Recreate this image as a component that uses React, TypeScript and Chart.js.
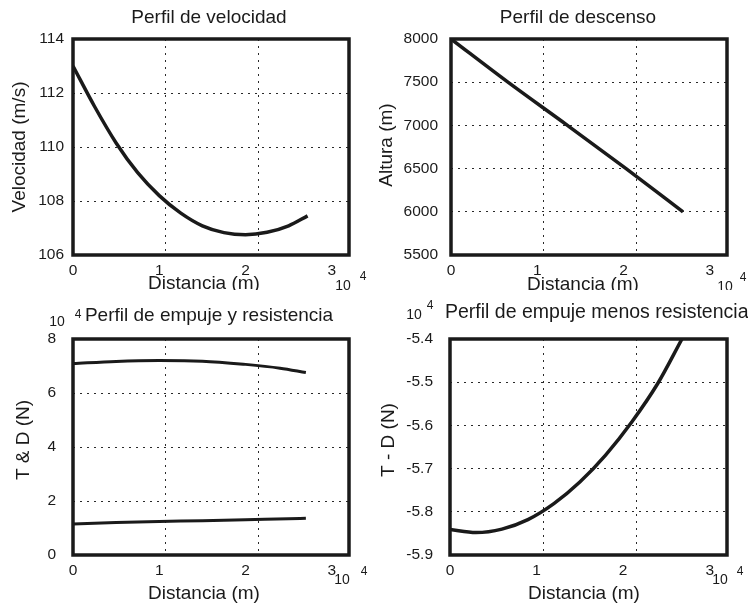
import { useEffect, useRef } from 'react';
import { Chart, registerables } from 'chart.js';

Chart.register(...registerables);

// Distance along the path, in units of 10^4 m
const distTicks = [0, 1, 2, 3];
const distGrid = [1, 2];

// Velocity profile (m/s)
const velDist = [0, 0.25, 0.5, 0.75, 1.0, 1.25, 1.5, 1.75, 2.0, 2.25, 2.5, 2.72];
const velocity = [113.0, 111.5, 110.15, 109.05, 108.2, 107.55, 107.08, 106.83, 106.75, 106.84, 107.08, 107.45];
const velTicks = [106, 108, 110, 112, 114];

// Descent profile (m)
const altDist = [0, 0.66, 1.35, 2.03, 2.69];
const altitude = [8000, 7500, 7000, 6500, 6000];
const altTicks = [5500, 6000, 6500, 7000, 7500, 8000];

// Thrust and drag (10^4 N)
const thrustDist = [0, 0.5, 1.0, 1.5, 2.0, 2.4, 2.7];
const thrust = [7.09, 7.17, 7.2, 7.18, 7.06, 6.92, 6.76];
const dragDist = [0, 0.5, 1.0, 1.5, 2.0, 2.5, 2.7];
const drag = [1.15, 1.2, 1.24, 1.27, 1.31, 1.34, 1.36];
const forceTicks = [0, 2, 4, 6, 8];

// Thrust minus drag (10^4 N)
const netDist = [0, 0.3, 0.6, 0.9, 1.2, 1.5, 1.8, 2.1, 2.4, 2.68];
const netForce = [-5.841, -5.848, -5.84, -5.818, -5.781, -5.731, -5.668, -5.592, -5.503, -5.4];
const netTicks = [-5.9, -5.8, -5.7, -5.6, -5.5, -5.4];

const FONT = "'Liberation Sans', Arial, Helvetica, sans-serif";
const INK = '#1a1a1a';
const GRID = '#2a2a2a';

type Area = { left: number; top: number; right: number; bottom: number };
type Note = { text: string; x: number; y: number; size: number; rotate?: boolean; align?: CanvasTextAlign };
type Series = { xs: number[]; ys: number[]; width: number };
type PanelProps = {
  left: number;
  top: number;
  width: number;
  height: number;
  area: Area;
  series: Series[];
  yMin: number;
  yMax: number;
  yTicks: number[];
  yPad: number;
  yFormat: (v: number) => string;
  notes: Note[];
};

function Panel(p: PanelProps) {
  const ref = useRef<HTMLCanvasElement>(null);

  useEffect(() => {
    const canvas = ref.current;
    if (!canvas) return;
    const { area } = p;

    // Heavy box around the plotting area
    const frame = {
      id: 'frame',
      afterDraw(chart: Chart) {
        const { ctx } = chart;
        const { left, top, right, bottom } = chart.chartArea;
        ctx.save();
        ctx.strokeStyle = INK;
        ctx.lineWidth = 3.5;
        ctx.strokeRect(left, top, right - left, bottom - top);
        ctx.restore();
      },
    };

    // Titles, axis labels and the 10^4 multipliers
    const notes = {
      id: 'notes',
      afterDraw(chart: Chart) {
        const { ctx } = chart;
        for (const n of p.notes) {
          ctx.save();
          ctx.font = `${n.size}px ${FONT}`;
          ctx.fillStyle = INK;
          ctx.textAlign = n.align ?? 'center';
          ctx.textBaseline = 'middle';
          ctx.translate(n.x, n.y);
          if (n.rotate) ctx.rotate(-Math.PI / 2);
          ctx.fillText(n.text, 0, 0);
          ctx.restore();
        }
      },
    };

    const tickFont = { family: FONT, size: 15.5 };

    const chart = new Chart(canvas, {
      type: 'line',
      data: {
        datasets: p.series.map((s) => ({
          data: s.xs.map((x, i) => ({ x, y: s.ys[i] })),
          borderColor: INK,
          borderWidth: s.width,
          pointRadius: 0,
          cubicInterpolationMode: 'monotone' as const,
          fill: false,
        })),
      },
      options: {
        animation: false,
        responsive: false,
        maintainAspectRatio: false,
        devicePixelRatio: 1,
        events: [],
        layout: { padding: { left: 0, top: area.top, right: p.width - area.right, bottom: 0 } },
        plugins: {
          legend: { display: false },
          tooltip: { enabled: false },
          title: { display: false },
        },
        scales: {
          x: {
            type: 'linear',
            min: 0,
            max: 3.2,
            afterBuildTicks: (s: any) => {
              s.ticks = distTicks.map((value) => ({ value }));
            },
            afterFit: (s: any) => {
              s.height = p.height - area.bottom;
            },
            grid: { display: false, drawTicks: false },
            border: { display: false },
            ticks: {
              font: tickFont,
              color: INK,
              padding: 6,
              autoSkip: false,
              maxRotation: 0,
              callback: (v: any) => String(v),
            },
          },
          xg: {
            type: 'linear',
            position: 'bottom',
            min: 0,
            max: 2.97,
            afterBuildTicks: (s: any) => {
              s.ticks = distGrid.map((value) => ({ value }));
            },
            afterFit: (s: any) => {
              s.height = 0;
            },
            ticks: { display: false },
            grid: { color: GRID, lineWidth: 1, drawTicks: false, borderDash: [2, 5] } as any,
            border: { display: false, dash: [2, 5] },
          },
          y: {
            type: 'linear',
            min: p.yMin,
            max: p.yMax,
            afterBuildTicks: (s: any) => {
              s.ticks = p.yTicks.map((value) => ({ value }));
            },
            afterFit: (s: any) => {
              s.width = area.left;
            },
            grid: { color: GRID, lineWidth: 1, drawTicks: false, borderDash: [2, 5] } as any,
            border: { display: false, dash: [2, 5] },
            ticks: {
              font: tickFont,
              color: INK,
              padding: p.yPad,
              autoSkip: false,
              callback: (v: any) => p.yFormat(Number(v)),
            },
          },
        },
      } as any,
      plugins: [frame, notes],
    });

    return () => chart.destroy();
  }, []);

  return (
    <canvas
      ref={ref}
      width={p.width}
      height={p.height}
      style={{ position: 'absolute', left: p.left, top: p.top, width: p.width, height: p.height }}
    />
  );
}

const plain = (v: number) => String(v);
const oneDecimal = (v: number) => v.toFixed(1);

export default function App() {
  return (
    <div style={{ position: 'fixed', left: 0, top: 0, width: 748, height: 603, background: '#fff', overflow: 'hidden' }}>
      <Panel
        left={0}
        top={0}
        width={374}
        height={290}
        area={{ left: 73, top: 39, right: 349, bottom: 255 }}
        series={[{ xs: velDist, ys: velocity, width: 3.5 }]}
        yMin={106}
        yMax={114}
        yTicks={velTicks}
        yPad={9}
        yFormat={plain}
        notes={[
          { text: 'Perfil de velocidad', x: 209, y: 18, size: 19 },
          { text: 'Velocidad (m/s)', x: 19.5, y: 147, size: 19, rotate: true },
          { text: 'Distancia (m)', x: 204, y: 284, size: 19 },
          { text: '10', x: 343, y: 286, size: 14 },
          { text: '4', x: 363, y: 277, size: 12 },
        ]}
      />
      <Panel
        left={374}
        top={0}
        width={374}
        height={290}
        area={{ left: 77, top: 39, right: 353, bottom: 255 }}
        series={[{ xs: altDist, ys: altitude, width: 3.5 }]}
        yMin={5500}
        yMax={8000}
        yTicks={altTicks}
        yPad={13}
        yFormat={plain}
        notes={[
          { text: 'Perfil de descenso', x: 204, y: 18, size: 19 },
          { text: 'Altura (m)', x: 13, y: 145, size: 19, rotate: true },
          { text: 'Distancia (m)', x: 209, y: 285, size: 19 },
          { text: '10', x: 351, y: 287, size: 14 },
          { text: '4', x: 369, y: 278, size: 12 },
        ]}
      />
      <Panel
        left={0}
        top={290}
        width={374}
        height={313}
        area={{ left: 73, top: 49, right: 349, bottom: 265 }}
        series={[
          { xs: thrustDist, ys: thrust, width: 3 },
          { xs: dragDist, ys: drag, width: 3 },
        ]}
        yMin={0}
        yMax={8}
        yTicks={forceTicks}
        yPad={17}
        yFormat={plain}
        notes={[
          { text: 'Perfil de empuje y resistencia', x: 209, y: 26, size: 19 },
          { text: '10', x: 57, y: 32, size: 14 },
          { text: '4', x: 78, y: 25, size: 12 },
          { text: 'T & D (N)', x: 24, y: 150, size: 19, rotate: true },
          { text: 'Distancia (m)', x: 204, y: 304, size: 19 },
          { text: '10', x: 342, y: 290, size: 14 },
          { text: '4', x: 364, y: 282, size: 12 },
        ]}
      />
      <Panel
        left={374}
        top={290}
        width={374}
        height={313}
        area={{ left: 76, top: 49, right: 353, bottom: 265 }}
        series={[{ xs: netDist, ys: netForce, width: 3.5 }]}
        yMin={-5.9}
        yMax={-5.4}
        yTicks={netTicks}
        yPad={17}
        yFormat={oneDecimal}
        notes={[
          { text: 'Perfil de empuje menos resistencia', x: 71, y: 23, size: 19.5, align: 'left' },
          { text: '10', x: 40, y: 25, size: 14 },
          { text: '4', x: 56, y: 16, size: 12 },
          { text: 'T - D (N)', x: 14.5, y: 150, size: 19, rotate: true },
          { text: 'Distancia (m)', x: 210, y: 304, size: 19 },
          { text: '10', x: 346, y: 290, size: 14 },
          { text: '4', x: 366, y: 282, size: 12 },
        ]}
      />
    </div>
  );
}
